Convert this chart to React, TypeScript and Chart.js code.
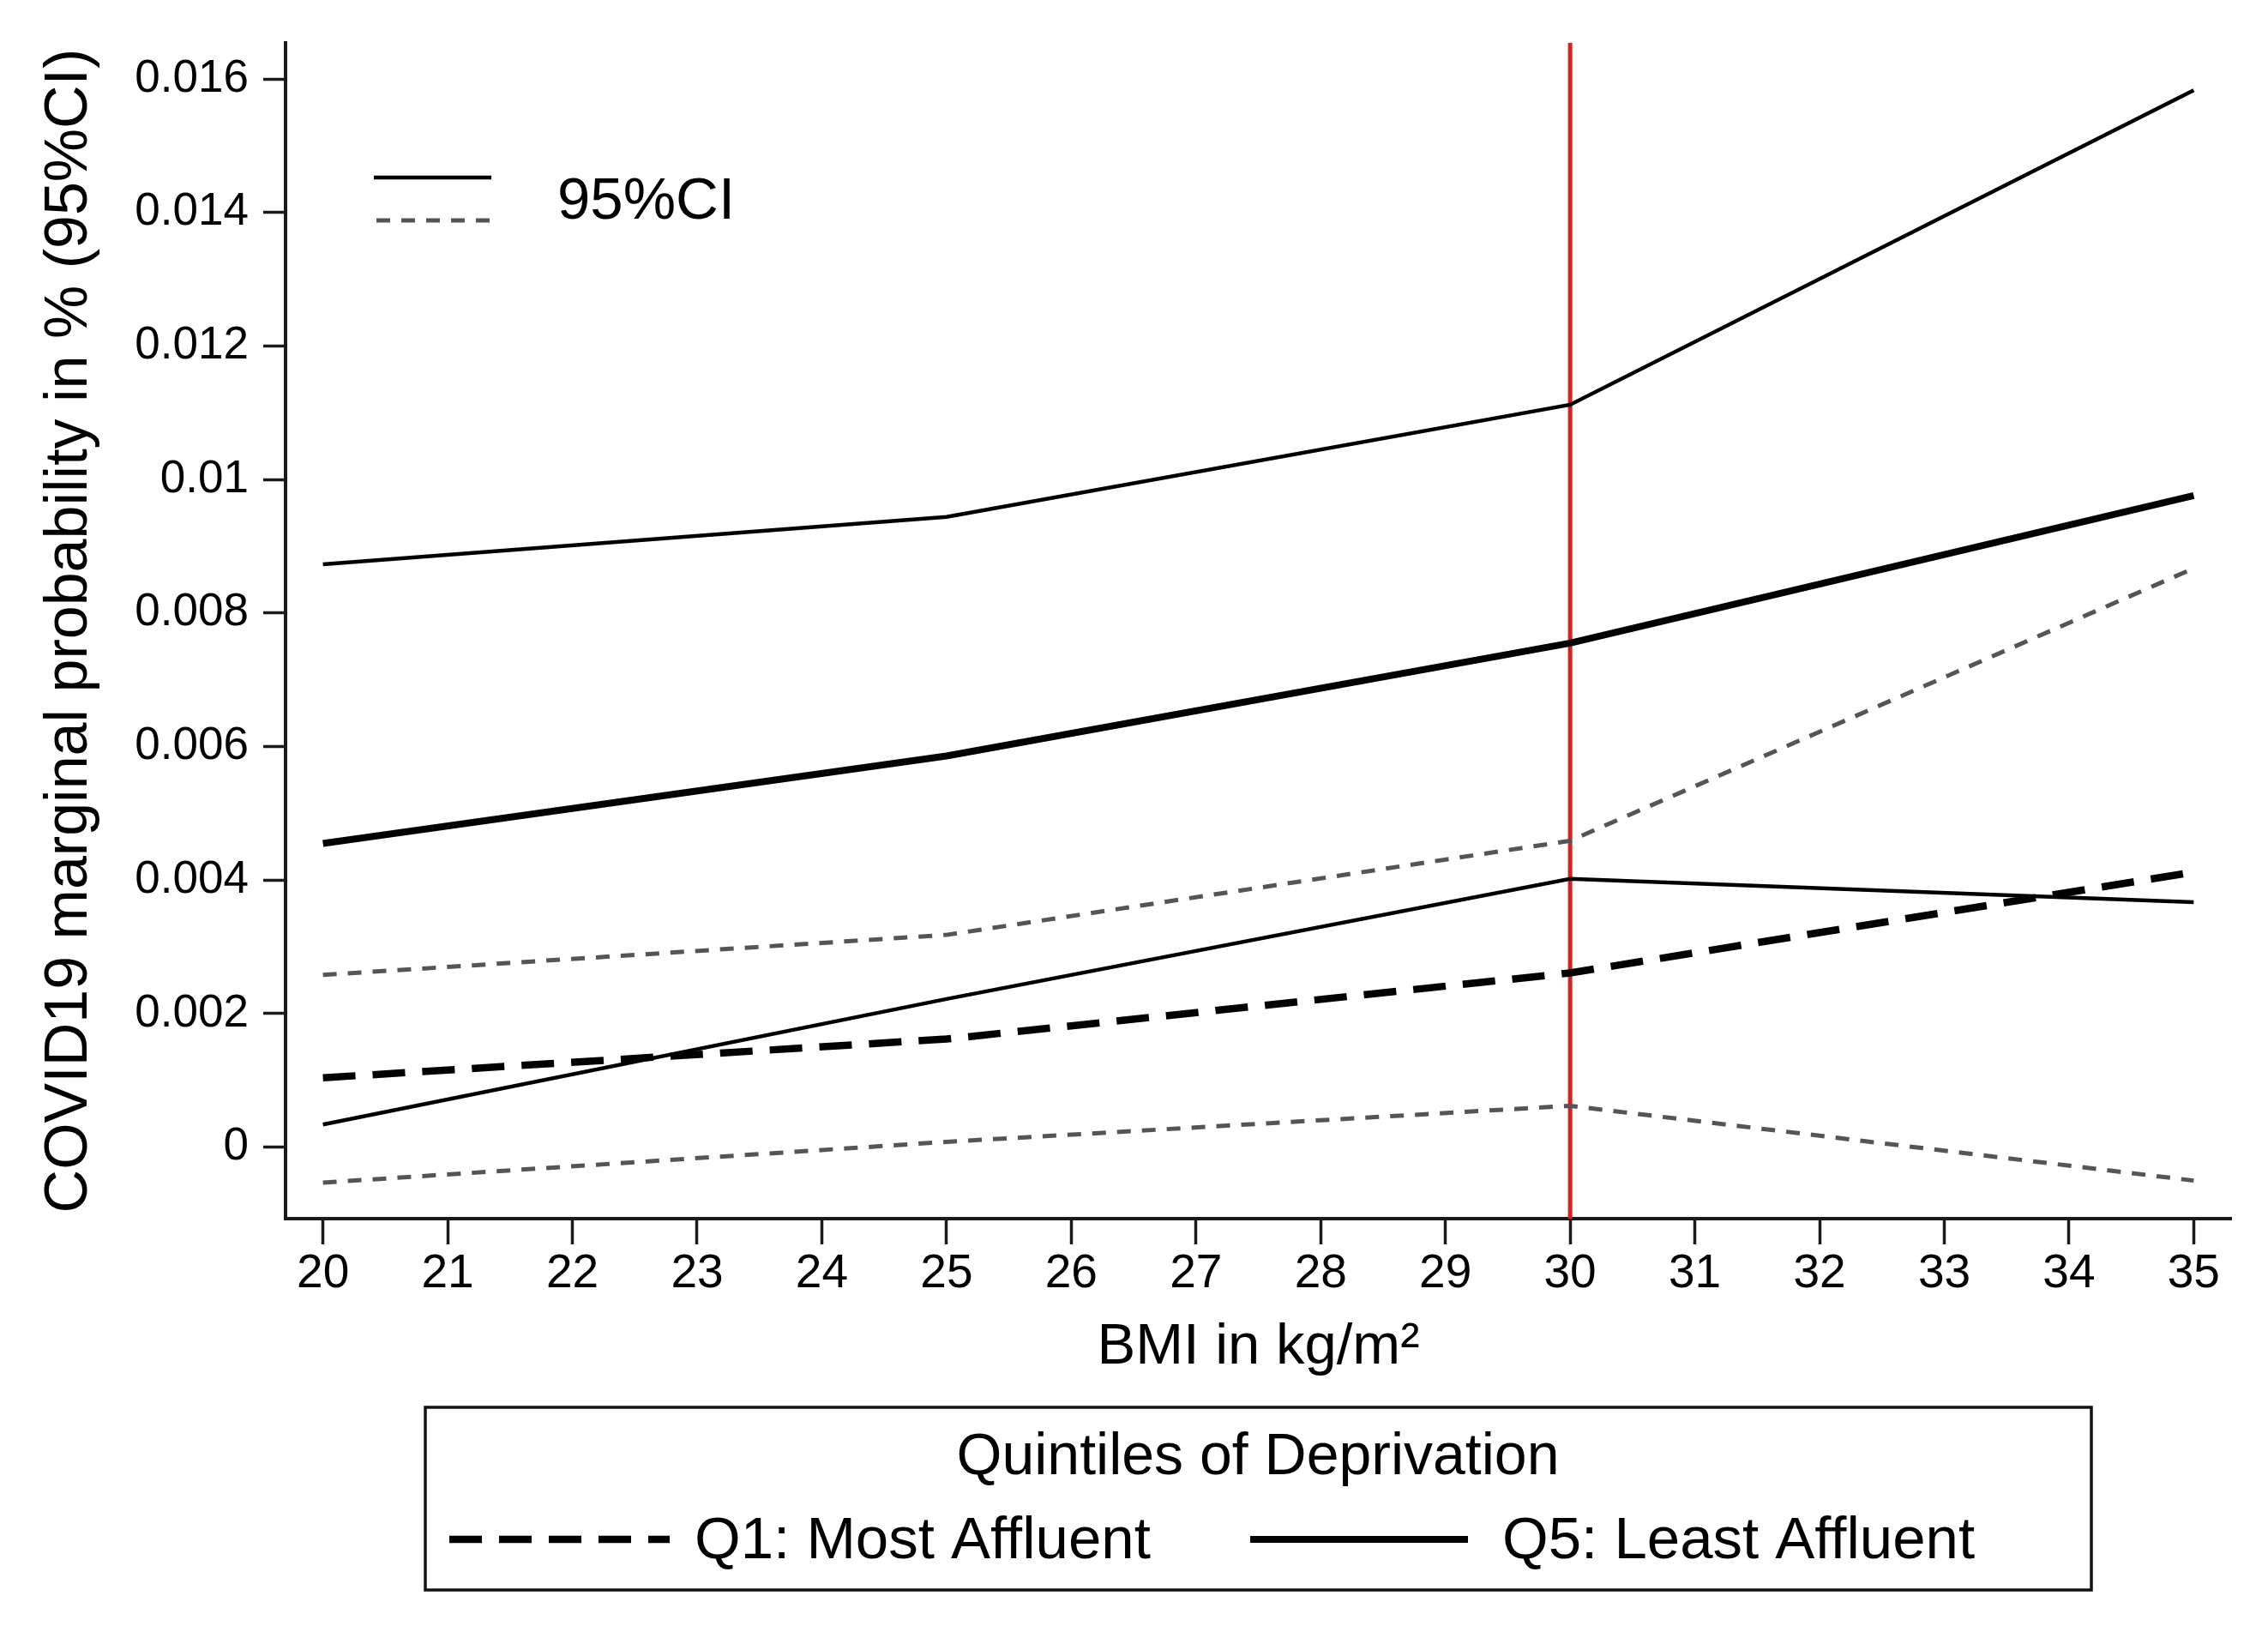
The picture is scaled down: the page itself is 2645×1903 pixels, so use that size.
import React, { useEffect, useRef } from 'react';
import { Chart, registerables } from 'chart.js';

Chart.register(...registerables);

// ---------- data ----------
const bmiPoints = [20, 25, 30, 35];
const q1Estimate = [0.00104, 0.00162, 0.00261, 0.00412];
const q1Upper = [0.00258, 0.00318, 0.00459, 0.00867];
const q1Lower = [-0.00053, 0.00008, 0.00062, -0.0005];
const q5Estimate = [0.00455, 0.00586, 0.00755, 0.00976];
const q5Upper = [0.00873, 0.00944, 0.01112, 0.01583];
const q5Lower = [0.00034, 0.00222, 0.00402, 0.00367];
const obesityCutoff = 30;

const xTickValues = [20, 21, 22, 23, 24, 25, 26, 27, 28, 29, 30, 31, 32, 33, 34, 35];
const yTickValues = [0, 0.002, 0.004, 0.006, 0.008, 0.01, 0.012, 0.014, 0.016];
const xLimits = [19.7, 35.3];
const yLimits = [-0.00107, 0.01654];

const yTitle = 'COVID19 marginal probability in % (95%CI)';
const xTitle = 'BMI in kg/m\u00B2';
const ciLabel = '95%CI';
const legendTitle = 'Quintiles of Deprivation';
const q1Label = 'Q1: Most Affluent';
const q5Label = 'Q5: Least Affluent';

// ---------- styles ----------
const FONT = "'Liberation Sans', Arial, Helvetica, sans-serif";
const AXIS = '#1a1a1a';
const GRAY = '#555555';
const RED = '#dc1f1f';
const THIN = 4.5;
const THICK = 8;
const DASHED_W = 8.5;
const DASH_Q1 = [38, 20];
const DOT_CI = [16, 13];

const toXY = (ys: number[]) => bmiPoints.map((x, i) => ({ x, y: ys[i] }));

const legendPlugin = {
  id: 'stataLegends',
  afterDraw(chart: any) {
    const ctx: CanvasRenderingContext2D = chart.ctx;
    ctx.save();
    ctx.lineCap = 'butt';

    // top-left CI key
    ctx.strokeStyle = '#000';
    ctx.lineWidth = THIN;
    ctx.setLineDash([]);
    ctx.beginPath();
    ctx.moveTo(436, 207);
    ctx.lineTo(573, 207);
    ctx.stroke();

    ctx.strokeStyle = GRAY;
    ctx.lineWidth = 5;
    ctx.setLineDash(DOT_CI);
    ctx.beginPath();
    ctx.moveTo(439, 257);
    ctx.lineTo(573, 257);
    ctx.stroke();

    ctx.setLineDash([]);
    ctx.fillStyle = '#000';
    ctx.font = `69px ${FONT}`;
    ctx.textBaseline = 'middle';
    ctx.textAlign = 'left';
    ctx.fillText(ciLabel, 650, 236);

    // bottom legend box
    ctx.strokeStyle = '#111';
    ctx.lineWidth = 3.5;
    ctx.strokeRect(496, 1641, 1943, 213);

    ctx.font = `68px ${FONT}`;
    ctx.textAlign = 'center';
    ctx.fillText(legendTitle, 1467, 1700);

    ctx.strokeStyle = '#000';
    ctx.lineWidth = DASHED_W;
    ctx.setLineDash(DASH_Q1);
    ctx.beginPath();
    ctx.moveTo(524, 1795);
    ctx.lineTo(781, 1795);
    ctx.stroke();

    ctx.setLineDash([]);
    ctx.lineWidth = THICK;
    ctx.beginPath();
    ctx.moveTo(1458, 1795);
    ctx.lineTo(1712, 1795);
    ctx.stroke();

    ctx.font = `69px ${FONT}`;
    ctx.textAlign = 'left';
    ctx.fillText(q1Label, 810, 1798);
    ctx.fillText(q5Label, 1752, 1798);

    ctx.restore();
  },
};

export default function App() {
  const canvasRef = useRef<HTMLCanvasElement | null>(null);

  useEffect(() => {
    document.body.style.margin = '0';
    document.body.style.overflow = 'hidden';
    const canvas = canvasRef.current;
    if (!canvas) return;

    const chart = new Chart(canvas, {
      type: 'line',
      data: {
        datasets: [
          {
            label: 'Q5 estimate',
            data: toXY(q5Estimate),
            borderColor: '#000',
            borderWidth: THICK,
            pointRadius: 0,
            tension: 0,
          },
          {
            label: 'Q1 estimate',
            data: toXY(q1Estimate),
            borderColor: '#000',
            borderWidth: DASHED_W,
            borderDash: DASH_Q1,
            pointRadius: 0,
            tension: 0,
          },
          {
            label: 'Q5 upper CI',
            data: toXY(q5Upper),
            borderColor: '#000',
            borderWidth: THIN,
            pointRadius: 0,
            tension: 0,
          },
          {
            label: 'Q5 lower CI',
            data: toXY(q5Lower),
            borderColor: '#000',
            borderWidth: THIN,
            pointRadius: 0,
            tension: 0,
          },
          {
            label: 'Q1 upper CI',
            data: toXY(q1Upper),
            borderColor: GRAY,
            borderWidth: 5,
            borderDash: DOT_CI,
            pointRadius: 0,
            tension: 0,
          },
          {
            label: 'Q1 lower CI',
            data: toXY(q1Lower),
            borderColor: GRAY,
            borderWidth: 5,
            borderDash: DOT_CI,
            pointRadius: 0,
            tension: 0,
          },
          {
            label: 'BMI 30',
            data: [
              { x: obesityCutoff, y: yLimits[0] },
              { x: obesityCutoff, y: yLimits[1] },
            ],
            borderColor: RED,
            borderWidth: 5,
            pointRadius: 0,
            tension: 0,
          },
        ],
      },
      options: {
        animation: false,
        responsive: false,
        devicePixelRatio: 1,
        layout: { padding: { left: 0, right: 43, top: 50, bottom: 272 } },
        plugins: {
          legend: { display: false },
          tooltip: { enabled: false },
        },
        scales: {
          x: {
            type: 'linear',
            min: xLimits[0],
            max: xLimits[1],
            afterBuildTicks: (scale: any) => {
              scale.ticks = xTickValues.map((v) => ({ value: v }));
            },
            afterFit: (scale: any) => {
              scale.height = 210;
            },
            ticks: {
              autoSkip: false,
              maxRotation: 0,
              padding: 2,
              color: '#000',
              font: { family: FONT, size: 55 },
              callback: (v: any) => String(v),
            },
            grid: {
              display: true,
              drawOnChartArea: false,
              drawTicks: true,
              tickLength: 30,
              tickWidth: 3.5,
              tickColor: AXIS,
              color: AXIS,
            },
            border: { display: true, color: AXIS, width: 4 },
            title: {
              display: true,
              text: xTitle,
              color: '#000',
              font: { family: FONT, size: 67 },
              padding: { top: 0, bottom: 19 },
            },
          },
          y: {
            type: 'linear',
            min: yLimits[0],
            max: yLimits[1],
            afterBuildTicks: (scale: any) => {
              scale.ticks = yTickValues.map((v) => ({ value: v }));
            },
            afterFit: (scale: any) => {
              scale.width = 333;
            },
            ticks: {
              autoSkip: false,
              padding: 17,
              color: '#000',
              font: { family: FONT, size: 53 },
              callback: (v: any) => String(Number(Number(v).toFixed(3))),
            },
            grid: {
              display: true,
              drawOnChartArea: false,
              drawTicks: true,
              tickLength: 26,
              tickWidth: 3.5,
              tickColor: AXIS,
              color: AXIS,
            },
            border: { display: true, color: AXIS, width: 4 },
            title: {
              display: true,
              text: yTitle,
              color: '#000',
              font: { family: FONT, size: 70 },
              padding: { top: 40, bottom: 0 },
            },
          },
        },
      },
      plugins: [legendPlugin],
    } as any);

    return () => {
      chart.destroy();
    };
  }, []);

  return (
    <div style={{ width: 2645, height: 1903, background: '#fff' }}>
      <canvas ref={canvasRef} width={2645} height={1903} style={{ display: 'block' }} />
    </div>
  );
}
